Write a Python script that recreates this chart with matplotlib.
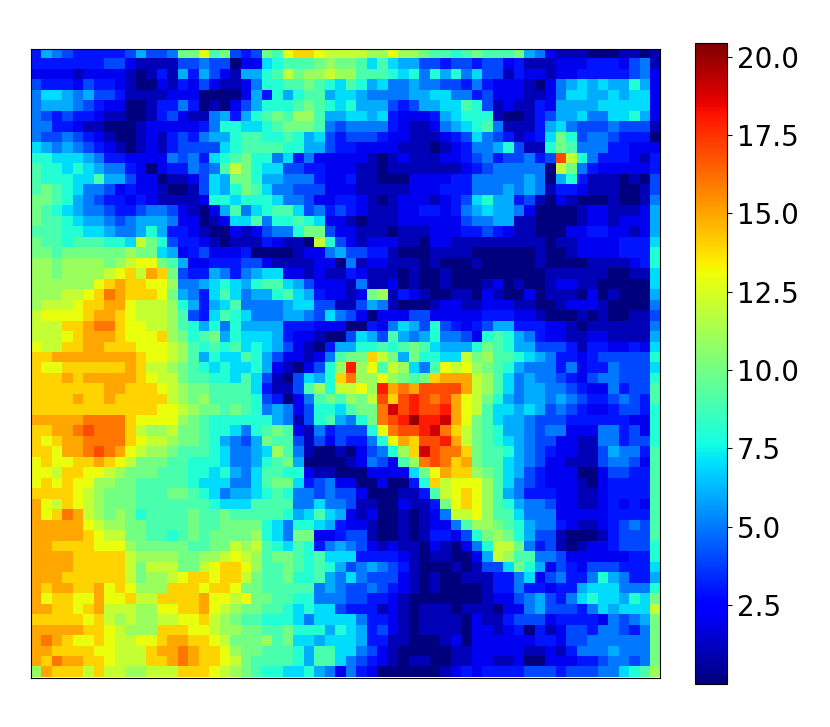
import numpy as np
import matplotlib
matplotlib.use("Agg")
import matplotlib.pyplot as plt

# cell values, one base-36 digit per cell (a=10 ... k=20)
left_cols = [
    "3654333334" "6445aad9a4" "34a9deedcc",
    "3333333442" "1111445440" "2278999aba",
    "2222122221" "0131636421" "6689cabbcb",
    "4333243321" "0021324211" "258899a987",
    "5776564431" "1112220000" "2638689967",
    "5666543220" "0133530102" "468889a987",
    "5434332110" "0134211563" "689a9bb966",
    "5533211000" "1222223588" "7789aaa954",
    "5445432100" "1213435668" "9988986743",
    "7656543210" "1213444478" "9999886643",
    "8877765332" "2225453789" "a885735222",
    "9887876553" "202335459c" "a877443322",
    "9888779664" "220112476a" "a866555322",
    "9a98755423" "2210014768" "a975544422",
    "aa98654332" "3211112887" "8887554223",
    "a987655433" "4554210269" "5789974534",
    "a998766545" "6665220127" "7958898722",
    "9998877655" "6863321002" "124558aa42",
    "a998999887" "ca84332101" "1132110c84",
    "aa9aaaaaab" "aa76234222" "3000012256",
    "bbabbbbabc" "dda9622333" "4421111220",
    "bbabbbbcde" "cfea433653" "5677221211",
    "bbbbbbdefe" "eddb556787" "6899764222",
    "bbbccdegfe" "eeda653797" "5668976322",
    "bcccdeeffd" "cccb863679" "5555677441",
    "cddddeffed" "cccb943798" "7555665475",
    "ccceefgged" "dccb986858" "6666333222",
    "cccdefffed" "ddeba89a68" "7776322100",
    "dcceeffeee" "dddcb98989" "7876421036",
    "eeffffffff" "eddcb96877" "9864221259",
    "eddeeeeeef" "eccba98787" "786210248b",
    "eeefefffff" "edcca99887" "974104768e",
    "eeeeeeeffe" "eedcbaa999" "9731149b8c",
    "eeeefeefee" "eeecbab999" "98430259a9",
    "eeeeeeeeee" "eeddcbaa9a" "9856524887",
    "fffffgggge" "ddddba9888" "8886514896",
    "eeffghggge" "cbbcaa9887" "589a921534",
    "edeffgggge" "dccbaa9865" "46a9941424",
    "eedffghgfd" "cbba999875" "567b951001",
    "deddeefedc" "aaa9988875" "5689a60000",
    "ddceeddcba" "aa99988786" "5799882110",
    "dededdbbaa" "9999987775" "579aa73452",
    "eeeedcbaaa" "999aa98756" "6789855454",
    "fdcedcbaaa" "9999999877" "7999955755",
    "fdegfcbaba" "89999a99a9" "9999867976",
    "fffffdcbba" "a9999a99aa" "aa87588763",
    "fffffedcca" "a9989a9aaa" "ab875aa223",
    "ffeeeedddb" "aaaaa99aac" "bc98798356",
    "ffffeeeeec" "bbbbaabbcd" "cb9aa98977",
    "ffffeeeeec" "acccaacdee" "db99a98986",
    "fffeeeeeec" "abbcdeedee" "ca99a88965",
    "feffeefded" "bbbeeedeed" "aa99999565",
    "fdeeddfdde" "cceeeefddc" "daa9988555",
    "ffeedefccc" "bbddeefdcb" "aa99878774",
    "eeeeedecbc" "bbccddecba" "9988875777",
    "fffffeedcb" "bbeeeddcbb" "aa99a88868",
    "fgfeddedcc" "ddeffeedca" "aab9a77677",
    "ffeeeeddcc" "ceffgfeedb" "aa99986997",
    "fegffeedcc" "ceefgfeedc" "a999986997",
    "bfeeececcb" "bccceeedcb" "a988778652",
]
right_cols = [
    "ccbbdbba99" "89a999a652" "1110001101",
    "a979766443" "4434423111" "2223332451",
    "b999878586" "8574413221" "2233333452",
    "9867556554" "4353222102" "5676766862",
    "7655556677" "5534222112" "5776676772",
    "8666434667" "7984121132" "6666777772",
    "7767322236" "7888100134" "6675577862",
    "5555321125" "6789511136" "7544454441",
    "4443221112" "3475431237" "a845543330",
    "3222211101" "2355684118" "a955533222",
    "2210121112" "2345344534" "hc85333213",
    "2110111111" "1234555550" "ca53222223",
    "3110002222" "3355555650" "6831110104",
    "2111112223" "3355565651" "3321110014",
    "3210122212" "3478663410" "2100010015",
    "3211122332" "3567665200" "0012211126",
    "1011122222" "2455661100" "0012212226",
    "2111011122" "2334321100" "0223322126",
    "2122211022" "1111111110" "1122223337",
    "4433100011" "1100000010" "0122223338",
    "5122111010" "0010000010" "0001111238",
    "3211101001" "0000000001" "1111100117",
    "1511201001" "0001201001" "2211000007",
    "12ab132100" "1102100201" "1102010006",
    "1465100012" "2112221100" "1222100005",
    "4202224422" "2223332210" "0010100114",
    "0032576484" "3234663332" "2101111115",
    "4764965685" "5428986532" "2112211116",
    "688989a976" "668a986644" "4313322327",
    "aaeca6a887" "7cab998765" "3323444448",
    "ibd9cb759d" "cdba986555" "3523354447",
    "gbbdba9aef" "ffcb975655" "4324554448",
    "cdbifgfhhh" "hfcb975665" "5432253449",
    "bachehihgh" "fdca865665" "6543345439",
    "9aagjhihhi" "fdc9776764" "5432234438",
    "58aghikiij" "fda9766544" "4333333228",
    "448dghhijg" "eca9866545" "5222553428",
    "3358dfehhi" "fca9876544" "2211553448",
    "02458bejhg" "gea9986543" "2211465539",
    "125429bghg" "efa9976542" "2111455429",
    "0022227adf" "eeba976432" "2200244339",
    "20020038ec" "dddb975432" "2210233339",
    "420001139c" "dedb965333" "2211233339",
    "411002113a" "dedb986554" "2211232329",
    "2120010125" "ccdb997555" "2222233339",
    "2210010122" "59bba98655" "3211234549",
    "4410010133" "248aba8644" "1000134449",
    "5421211021" "0258cca534" "1012234448",
    "7333321011" "0026cb9955" "4222222338",
    "4565431000" "101447a862" "4324443337",
    "7544421010" "0111335724" "5335865336",
    "4454321010" "0001335332" "3367775558",
    "4433210000" "0001224564" "357877687a",
    "3331210111" "0111022564" "443576777c",
    "7533210111" "1021134442" "333325456a",
    "7634210111" "1022123031" "244355435a",
    "7633110001" "2022222233" "244555555a",
    "7542100000" "1122222112" "135556555a",
    "5432101100" "1122112002" "223345545a",
    "5320000001" "2323333444" "344455789b",
]
cbar_ticks = [2.5, 5.0, 7.5, 10.0, 12.5, 15.0, 17.5, 20.0]

grid = np.array([[int(ch, 36) for ch in a + b] for a, b in zip(left_cols, right_cols)], dtype=float)

W, H = 830, 727
fig = plt.figure(figsize=(W / 100, H / 100), dpi=100)
ax = fig.add_axes([31 / W, (H - 677.5) / H, 629 / W, 629 / H])
im = ax.imshow(grid, cmap="jet", vmin=0.0, vmax=20.44, interpolation="nearest", aspect="auto")
ax.set_xticks([])
ax.set_yticks([])

cax = fig.add_axes([694.5 / W, (H - 683.5) / H, 32.5 / W, 640.5 / H])
cb = fig.colorbar(im, cax=cax)
cb.set_ticks(cbar_ticks)
cb.ax.tick_params(labelsize=20)

fig.savefig("out.png", dpi=100)
